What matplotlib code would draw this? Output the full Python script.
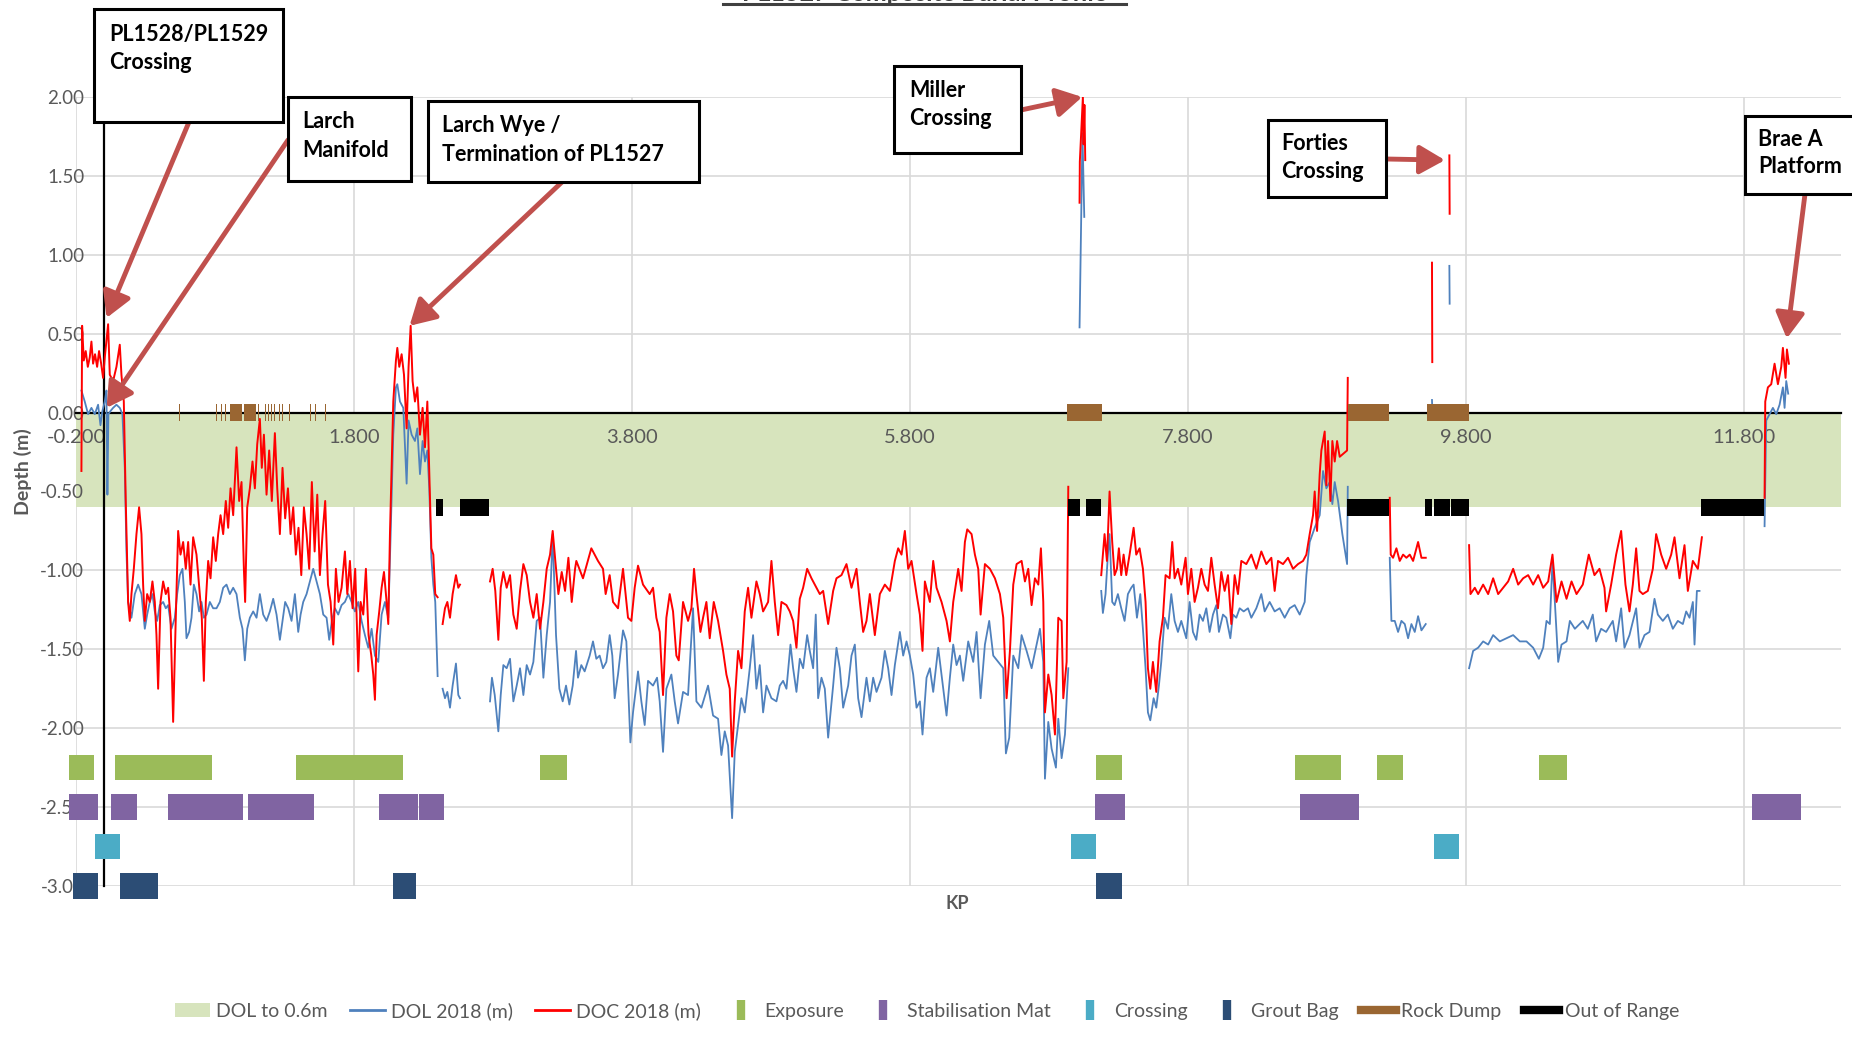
import numpy as np
import matplotlib
matplotlib.use('Agg')
import matplotlib.pyplot as plt
from matplotlib.lines import Line2D
from matplotlib.patches import Patch, Rectangle

plt.rcParams['font.family'] = ['Lato', 'DejaVu Sans']

GAP = (np.nan, np.nan)

# axis ticks
kp_ticks = [-0.2, 1.8, 3.8, 5.8, 7.8, 9.8, 11.8]
depth_ticks = [-3.0, -2.5, -2.0, -1.5, -1.0, -0.5, 0.0, 0.5, 1.0, 1.5, 2.0]

# DOL to 0.6m band (m)
band_top = 0.0
band_bottom = -0.6

# DOC 2018 (m): (KP, depth)
doc_2018 = [
    (-0.161, -0.37), (-0.156, 0.55), (-0.144, 0.33), (-0.130, 0.39), (-0.115, 0.29), (-0.101, 0.35),
    (-0.089, 0.45), (-0.077, 0.31), (-0.063, 0.37), (-0.048, 0.29), (-0.034, 0.39), (-0.019, 0.31),
    (-0.005, 0.22), (0.007, 0.35), (0.031, 0.56), (0.043, 0.24), (0.067, 0.20), (0.091, 0.29),
    (0.115, 0.43), (0.127, 0.24), (0.144, 0.07), (0.158, -0.56), (0.175, -1.20), (0.187, -1.32),
    (0.199, -1.15), (0.216, -0.99), (0.235, -0.77), (0.254, -0.60), (0.271, -0.77), (0.283, -1.09),
    (0.295, -1.32), (0.312, -1.15), (0.331, -1.20), (0.350, -1.07), (0.367, -1.20), (0.379, -1.41),
    (0.391, -1.75), (0.408, -1.20), (0.427, -1.07), (0.446, -1.15), (0.463, -1.11), (0.480, -1.30),
    (0.499, -1.96), (0.518, -1.30), (0.535, -0.75), (0.552, -0.90), (0.571, -0.82), (0.590, -0.99),
    (0.607, -0.82), (0.624, -1.09), (0.643, -0.79), (0.667, -0.90), (0.691, -1.15), (0.705, -1.30),
    (0.720, -1.70), (0.734, -1.20), (0.751, -0.94), (0.768, -1.05), (0.787, -0.79), (0.806, -0.94),
    (0.823, -0.77), (0.840, -0.65), (0.859, -0.77), (0.878, -0.56), (0.895, -0.73), (0.912, -0.48),
    (0.931, -0.65), (0.955, -0.22), (0.974, -0.56), (0.991, -0.44), (1.008, -0.99), (1.017, -1.20),
    (1.032, -0.60), (1.051, -0.48), (1.070, -0.31), (1.087, -0.48), (1.104, -0.20), (1.123, -0.04),
    (1.137, -0.35), (1.152, -0.14), (1.171, -0.52), (1.190, -0.24), (1.209, -0.56), (1.231, -0.13),
    (1.248, -0.48), (1.267, -0.77), (1.286, -0.35), (1.305, -0.67), (1.325, -0.48), (1.344, -0.77),
    (1.363, -0.60), (1.382, -0.90), (1.401, -0.73), (1.421, -1.03), (1.440, -0.60), (1.459, -0.77),
    (1.478, -0.99), (1.497, -0.44), (1.517, -0.88), (1.536, -0.52), (1.555, -1.03), (1.574, -0.77),
    (1.593, -0.56), (1.613, -1.09), (1.632, -1.20), (1.651, -1.47), (1.670, -0.99), (1.689, -1.20),
    (1.711, -1.11), (1.735, -0.88), (1.752, -1.15), (1.771, -0.94), (1.790, -1.24), (1.809, -0.99),
    (1.831, -1.64), (1.848, -1.20), (1.867, -1.28), (1.886, -0.99), (1.905, -1.41), (1.925, -1.54),
    (1.939, -1.66), (1.951, -1.82), (1.963, -1.41), (1.982, -1.26), (1.999, -1.11), (2.016, -1.01),
    (2.035, -1.20), (2.047, -1.34), (2.059, -0.77), (2.071, -0.35), (2.083, 0.07), (2.102, 0.33),
    (2.112, 0.41), (2.126, 0.29), (2.143, 0.37), (2.160, 0.24), (2.179, -0.10), (2.193, 0.29),
    (2.208, 0.55), (2.222, 0.20), (2.239, 0.07), (2.256, 0.16), (2.275, -0.14), (2.294, 0.03),
    (2.311, -0.22), (2.328, 0.07), (2.342, -0.39), (2.357, -0.86), (2.371, -0.90), (2.385, -1.15),
    (2.402, -1.17), GAP,
    (2.438, -1.34), (2.455, -1.24), (2.472, -1.20), (2.491, -1.30), (2.510, -1.15), (2.534, -1.03),
    (2.551, -1.11), (2.563, -1.09), GAP,
    (2.779, -1.07), (2.798, -0.99), (2.817, -1.13), (2.839, -1.44), (2.856, -1.11), (2.875, -1.01),
    (2.899, -1.11), (2.923, -1.03), (2.947, -1.28), (2.971, -1.37), (2.995, -1.13), (3.019, -0.96),
    (3.043, -1.03), (3.067, -1.20), (3.091, -1.30), (3.115, -1.15), (3.139, -1.37), (3.163, -1.20),
    (3.187, -0.99), (3.211, -0.90), (3.230, -0.75), (3.249, -0.94), (3.271, -1.15), (3.295, -1.01),
    (3.319, -1.13), (3.343, -0.92), (3.367, -1.20), (3.391, -0.99), (3.400, -0.94), (3.448, -1.05),
    (3.508, -0.86), (3.556, -0.94), (3.592, -0.99), (3.611, -1.15), (3.640, -1.03), (3.664, -1.20),
    (3.700, -1.24), (3.736, -0.99), (3.772, -1.30), (3.796, -1.32), (3.820, -1.11), (3.844, -0.97),
    (3.880, -1.09), (3.928, -1.15), (3.952, -1.11), (3.976, -1.30), (4.000, -1.39), (4.024, -1.79),
    (4.048, -1.30), (4.072, -1.15), (4.096, -1.26), (4.120, -1.54), (4.137, -1.57), (4.168, -1.20),
    (4.204, -1.32), (4.228, -1.24), (4.247, -0.99), (4.264, -1.15), (4.293, -1.39), (4.312, -1.30),
    (4.336, -1.20), (4.360, -1.43), (4.389, -1.20), (4.420, -1.32), (4.456, -1.51), (4.480, -1.66),
    (4.504, -1.75), (4.521, -2.18), (4.540, -1.83), (4.564, -1.51), (4.588, -1.62), (4.612, -1.26),
    (4.636, -1.11), (4.660, -1.30), (4.696, -1.07), (4.720, -1.15), (4.744, -1.26), (4.780, -1.20),
    (4.804, -0.94), (4.828, -1.20), (4.852, -1.41), (4.876, -1.20), (4.912, -1.22), (4.936, -1.26),
    (4.960, -1.32), (4.984, -1.49), (5.008, -1.18), (5.032, -1.11), (5.061, -0.99), (5.092, -1.05),
    (5.128, -1.11), (5.152, -1.15), (5.176, -1.13), (5.212, -1.34), (5.248, -1.13), (5.272, -1.05),
    (5.308, -1.03), (5.344, -0.96), (5.380, -1.11), (5.416, -0.99), (5.440, -1.20), (5.464, -1.39),
    (5.488, -1.32), (5.512, -1.15), (5.548, -1.41), (5.584, -1.15), (5.620, -1.09), (5.656, -1.13),
    (5.692, -0.94), (5.716, -0.86), (5.740, -0.90), (5.764, -0.75), (5.788, -0.99), (5.812, -0.94),
    (5.848, -1.15), (5.872, -1.28), (5.891, -1.51), (5.908, -1.07), (5.944, -1.20), (5.968, -0.94),
    (5.992, -1.11), (6.028, -1.20), (6.064, -1.32), (6.088, -1.45), (6.112, -1.20), (6.148, -0.99),
    (6.172, -1.13), (6.196, -0.82), (6.213, -0.74), (6.244, -0.77), (6.268, -0.90), (6.292, -0.99),
    (6.309, -1.28), (6.340, -0.96), (6.376, -0.99), (6.412, -1.05), (6.448, -1.15), (6.472, -1.30),
    (6.496, -1.81), (6.520, -1.51), (6.544, -1.09), (6.568, -0.96), (6.604, -0.94), (6.628, -1.07),
    (6.652, -0.99), (6.676, -1.22), (6.700, -1.05), (6.724, -1.09), (6.743, -0.86), (6.760, -1.20),
    (6.772, -1.90), (6.796, -1.66), (6.820, -1.79), (6.844, -2.04), (6.868, -1.30), (6.892, -1.32),
    (6.904, -1.81), (6.928, -1.58), (6.940, -0.47), GAP,
    (7.021, 1.33), (7.023, 1.59), (7.045, 2.00), (7.050, 1.70), (7.056, 1.95), (7.062, 1.60), GAP,
    (7.177, -1.03), (7.201, -0.77), (7.218, -0.94), (7.237, -0.50), (7.256, -0.82), (7.273, -1.03),
    (7.290, -0.99), (7.304, -0.86), (7.321, -1.03), (7.338, -0.90), (7.357, -1.03), (7.381, -0.90),
    (7.410, -0.73), (7.429, -0.90), (7.453, -0.86), (7.477, -0.99), (7.496, -1.20), (7.513, -1.62),
    (7.530, -1.75), (7.549, -1.58), (7.573, -1.77), (7.597, -1.45), (7.621, -1.30), (7.640, -1.03),
    (7.669, -1.05), (7.688, -0.82), (7.705, -1.05), (7.729, -0.99), (7.753, -1.09), (7.784, -0.92),
    (7.801, -1.15), (7.825, -0.99), (7.849, -1.20), (7.873, -1.11), (7.897, -0.99), (7.921, -1.09),
    (7.945, -1.13), (7.969, -0.92), (7.993, -1.09), (8.017, -1.24), (8.041, -1.01), (8.065, -1.13),
    (8.089, -1.03), (8.113, -1.34), (8.137, -1.03), (8.161, -1.15), (8.185, -0.94), (8.221, -0.96),
    (8.257, -0.90), (8.293, -0.99), (8.329, -0.88), (8.365, -0.96), (8.401, -0.92), (8.425, -1.13),
    (8.449, -0.94), (8.485, -0.96), (8.521, -0.92), (8.557, -0.99), (8.593, -0.96), (8.629, -0.94),
    (8.653, -0.90), (8.677, -0.77), (8.701, -0.65), (8.713, -0.50), (8.730, -0.75), (8.749, -0.39),
    (8.761, -0.24), (8.785, -0.12), (8.797, -0.46), (8.809, -0.18), (8.826, -0.56), (8.840, -0.18),
    (8.857, -0.31), (8.874, -0.18), (8.893, -0.28), (8.946, -0.24), (8.951, 0.22), GAP,
    (9.253, -0.54), (9.260, -0.90), (9.277, -0.92), (9.301, -0.86), (9.325, -0.94), (9.349, -0.90),
    (9.373, -0.92), (9.397, -0.90), (9.421, -0.94), (9.457, -0.82), (9.481, -0.92), (9.512, -0.92), GAP,
    (9.557, 0.95), (9.559, 0.32), GAP,
    (9.682, 1.63), (9.684, 1.26), GAP,
    (9.824, -0.84), (9.834, -1.15), (9.865, -1.11), (9.889, -1.15), (9.925, -1.09), (9.961, -1.15),
    (9.997, -1.05), (10.033, -1.15), (10.069, -1.11), (10.105, -1.07), (10.141, -0.99), (10.177, -1.09),
    (10.213, -1.05), (10.249, -1.03), (10.285, -1.09), (10.321, -1.03), (10.357, -1.11), (10.393, -1.07),
    (10.424, -0.90), (10.453, -1.20), (10.489, -1.07), (10.525, -1.18), (10.561, -1.07), (10.597, -1.15),
    (10.642, -1.09), (10.685, -0.90), (10.726, -1.03), (10.762, -0.99), (10.798, -1.11), (10.810, -1.26),
    (10.846, -1.09), (10.882, -0.90), (10.918, -0.75), (10.949, -1.09), (10.978, -1.26), (11.002, -1.09),
    (11.026, -0.86), (11.050, -1.13), (11.074, -1.15), (11.110, -1.13), (11.146, -0.99), (11.170, -0.77),
    (11.206, -0.90), (11.242, -0.99), (11.278, -0.90), (11.302, -0.79), (11.338, -1.05), (11.374, -0.84),
    (11.398, -1.13), (11.434, -0.94), (11.470, -0.99), (11.499, -0.79), GAP,
    (11.950, -0.54), (11.955, 0.07), (11.974, 0.16), (11.998, 0.18), (12.022, 0.31), (12.046, 0.18),
    (12.070, 0.29), (12.082, 0.41), (12.101, 0.22), (12.111, 0.40), (12.125, 0.31),
]

# DOL 2018 (m): (KP, depth)
dol_2018 = [
    (-0.161, 0.14), (-0.137, 0.07), (-0.113, -0.01), (-0.089, 0.03), (-0.065, -0.01), (-0.041, 0.05),
    (-0.024, -0.08), (-0.010, 0.01), (0.007, 0.07), (0.019, 0.14), (0.026, -0.52), (0.033, -0.01),
    (0.048, 0.01), (0.067, 0.03), (0.091, 0.05), (0.115, 0.03), (0.134, -0.01), (0.151, -0.35),
    (0.163, -0.88), (0.175, -1.20), (0.199, -1.30), (0.223, -1.15), (0.247, -1.09), (0.271, -1.15),
    (0.295, -1.37), (0.312, -1.28), (0.331, -1.20), (0.350, -1.15), (0.367, -1.26), (0.384, -1.32),
    (0.403, -1.22), (0.427, -1.20), (0.446, -1.24), (0.463, -1.22), (0.487, -1.37), (0.511, -1.30),
    (0.528, -1.15), (0.547, -1.03), (0.566, -0.99), (0.583, -1.20), (0.595, -1.43), (0.614, -1.39),
    (0.631, -1.30), (0.648, -1.09), (0.667, -1.15), (0.686, -1.26), (0.703, -1.20), (0.720, -1.30),
    (0.739, -1.28), (0.763, -1.20), (0.787, -1.24), (0.811, -1.24), (0.835, -1.20), (0.859, -1.11),
    (0.883, -1.09), (0.907, -1.15), (0.931, -1.11), (0.955, -1.15), (0.979, -1.30), (0.998, -1.37),
    (1.015, -1.57), (1.032, -1.37), (1.051, -1.30), (1.075, -1.26), (1.099, -1.30), (1.123, -1.15),
    (1.147, -1.28), (1.171, -1.32), (1.195, -1.26), (1.219, -1.18), (1.243, -1.28), (1.267, -1.44),
    (1.286, -1.32), (1.305, -1.20), (1.327, -1.24), (1.351, -1.32), (1.375, -1.15), (1.399, -1.39),
    (1.416, -1.28), (1.435, -1.20), (1.459, -1.15), (1.483, -1.07), (1.507, -0.99), (1.531, -1.07),
    (1.555, -1.15), (1.579, -1.28), (1.603, -1.30), (1.622, -1.44), (1.641, -1.32), (1.663, -1.24),
    (1.687, -1.28), (1.711, -1.22), (1.735, -1.20), (1.759, -1.15), (1.783, -1.20), (1.807, -1.26),
    (1.831, -1.20), (1.855, -1.32), (1.879, -1.41), (1.903, -1.49), (1.927, -1.37), (1.951, -1.54),
    (1.975, -1.58), (1.999, -1.28), (2.023, -1.20), (2.047, -1.30), (2.064, -0.77), (2.083, -0.14),
    (2.102, 0.16), (2.112, 0.18), (2.131, 0.07), (2.155, 0.03), (2.179, -0.45), (2.193, -0.05),
    (2.215, -0.14), (2.239, -0.18), (2.256, -0.10), (2.275, -0.39), (2.294, -0.18), (2.311, -0.31),
    (2.328, -0.24), (2.342, -0.48), (2.357, -0.92), (2.371, -1.09), (2.385, -1.20), (2.402, -1.67), GAP,
    (2.438, -1.75), (2.455, -1.81), (2.472, -1.77), (2.491, -1.87), (2.510, -1.73), (2.534, -1.59),
    (2.551, -1.79), (2.563, -1.81), GAP,
    (2.779, -1.83), (2.793, -1.68), (2.813, -1.79), (2.839, -2.02), (2.856, -1.79), (2.875, -1.60),
    (2.899, -1.62), (2.923, -1.56), (2.947, -1.83), (2.971, -1.73), (2.995, -1.62), (3.019, -1.79),
    (3.043, -1.60), (3.067, -1.66), (3.091, -1.58), (3.115, -1.32), (3.139, -1.30), (3.163, -1.68),
    (3.187, -1.41), (3.211, -1.20), (3.230, -0.77), (3.254, -1.41), (3.278, -1.75), (3.302, -1.83),
    (3.326, -1.73), (3.350, -1.85), (3.374, -1.73), (3.398, -1.51), (3.412, -1.68), (3.436, -1.60),
    (3.460, -1.64), (3.496, -1.54), (3.520, -1.45), (3.544, -1.56), (3.568, -1.54), (3.592, -1.62),
    (3.616, -1.58), (3.640, -1.41), (3.659, -1.54), (3.676, -1.81), (3.700, -1.66), (3.736, -1.38),
    (3.760, -1.45), (3.789, -2.09), (3.808, -1.90), (3.844, -1.64), (3.868, -1.83), (3.892, -1.98),
    (3.916, -1.70), (3.952, -1.73), (3.981, -1.68), (4.000, -1.83), (4.024, -2.15), (4.048, -1.75),
    (4.084, -1.66), (4.108, -1.83), (4.132, -1.97), (4.168, -1.77), (4.204, -1.79), (4.240, -1.24),
    (4.264, -1.83), (4.300, -1.87), (4.348, -1.73), (4.384, -1.92), (4.420, -1.94), (4.444, -2.17),
    (4.468, -2.02), (4.492, -2.11), (4.521, -2.57), (4.540, -2.15), (4.564, -1.98), (4.588, -1.81),
    (4.612, -1.90), (4.648, -1.62), (4.672, -1.41), (4.696, -1.75), (4.720, -1.60), (4.744, -1.90),
    (4.768, -1.73), (4.804, -1.81), (4.840, -1.83), (4.864, -1.73), (4.888, -1.70), (4.912, -1.75),
    (4.941, -1.47), (4.960, -1.62), (4.984, -1.77), (5.008, -1.56), (5.032, -1.62), (5.061, -1.41),
    (5.080, -1.51), (5.104, -1.62), (5.123, -1.28), (5.140, -1.81), (5.164, -1.68), (5.188, -1.75),
    (5.212, -2.06), (5.248, -1.73), (5.272, -1.49), (5.296, -1.62), (5.320, -1.87), (5.356, -1.73),
    (5.380, -1.54), (5.404, -1.47), (5.428, -1.81), (5.452, -1.93), (5.488, -1.68), (5.512, -1.83),
    (5.536, -1.68), (5.560, -1.77), (5.596, -1.68), (5.620, -1.51), (5.644, -1.62), (5.668, -1.79),
    (5.692, -1.60), (5.728, -1.39), (5.752, -1.54), (5.776, -1.45), (5.800, -1.54), (5.824, -1.66),
    (5.848, -1.87), (5.872, -1.83), (5.891, -2.04), (5.920, -1.68), (5.944, -1.62), (5.968, -1.77),
    (6.004, -1.49), (6.028, -1.66), (6.064, -1.92), (6.088, -1.68), (6.112, -1.47), (6.136, -1.60),
    (6.160, -1.54), (6.184, -1.70), (6.220, -1.45), (6.256, -1.58), (6.280, -1.39), (6.309, -1.81),
    (6.340, -1.47), (6.371, -1.32), (6.400, -1.54), (6.436, -1.58), (6.472, -1.62), (6.491, -2.16),
    (6.515, -2.06), (6.544, -1.54), (6.580, -1.62), (6.604, -1.41), (6.640, -1.51), (6.676, -1.62),
    (6.712, -1.47), (6.736, -1.37), (6.760, -1.58), (6.772, -2.32), (6.796, -1.96), (6.820, -2.13),
    (6.851, -2.25), (6.868, -1.94), (6.892, -2.19), (6.916, -2.04), (6.940, -1.62), GAP,
    (7.021, 0.54), (7.042, 1.77), (7.055, 1.24), GAP,
    (7.177, -1.13), (7.189, -1.27), (7.208, -1.15), (7.225, -0.90), (7.237, -0.77), (7.256, -1.20),
    (7.273, -1.22), (7.297, -1.15), (7.321, -1.24), (7.345, -1.32), (7.369, -1.15), (7.393, -1.11),
    (7.410, -1.09), (7.434, -1.30), (7.458, -1.15), (7.477, -1.37), (7.496, -1.62), (7.513, -1.90),
    (7.530, -1.95), (7.554, -1.81), (7.573, -1.87), (7.592, -1.73), (7.609, -1.58), (7.633, -1.30),
    (7.657, -1.37), (7.681, -1.15), (7.705, -1.32), (7.729, -1.39), (7.753, -1.32), (7.789, -1.43),
    (7.813, -1.20), (7.837, -1.39), (7.861, -1.44), (7.885, -1.28), (7.909, -1.32), (7.933, -1.24),
    (7.957, -1.39), (7.981, -1.28), (8.005, -1.22), (8.024, -1.39), (8.053, -1.28), (8.077, -1.30),
    (8.106, -1.43), (8.125, -1.28), (8.149, -1.30), (8.173, -1.24), (8.202, -1.26), (8.233, -1.24),
    (8.257, -1.30), (8.293, -1.24), (8.329, -1.15), (8.353, -1.26), (8.389, -1.20), (8.425, -1.26),
    (8.461, -1.24), (8.497, -1.30), (8.533, -1.24), (8.569, -1.22), (8.605, -1.28), (8.641, -1.20),
    (8.653, -1.03), (8.677, -0.82), (8.713, -0.73), (8.749, -0.65), (8.773, -0.37), (8.797, -0.48),
    (8.821, -0.44), (8.840, -0.58), (8.857, -0.44), (8.881, -0.56), (8.912, -0.77), (8.946, -0.96),
    (8.951, -0.47), GAP,
    (9.253, -0.92), (9.265, -1.32), (9.289, -1.32), (9.313, -1.39), (9.337, -1.32), (9.361, -1.34),
    (9.385, -1.43), (9.409, -1.34), (9.433, -1.39), (9.457, -1.29), (9.481, -1.38), (9.512, -1.34), GAP,
    (9.557, 0.08), (9.559, 0.03), GAP,
    (9.682, 0.93), (9.684, 0.69), GAP,
    (9.824, -1.62), (9.853, -1.51), (9.889, -1.49), (9.925, -1.45), (9.961, -1.47), (9.997, -1.41),
    (10.045, -1.45), (10.093, -1.43), (10.141, -1.41), (10.189, -1.45), (10.237, -1.45), (10.285, -1.49),
    (10.326, -1.56), (10.357, -1.49), (10.381, -1.32), (10.405, -1.34), (10.424, -0.94), (10.441, -1.20),
    (10.465, -1.58), (10.489, -1.47), (10.525, -1.45), (10.549, -1.32), (10.585, -1.37), (10.642, -1.32),
    (10.678, -1.37), (10.714, -1.28), (10.738, -1.45), (10.774, -1.37), (10.810, -1.39), (10.858, -1.32),
    (10.882, -1.45), (10.918, -1.24), (10.942, -1.49), (10.978, -1.41), (11.026, -1.24), (11.050, -1.49),
    (11.086, -1.41), (11.122, -1.39), (11.158, -1.18), (11.182, -1.28), (11.218, -1.32), (11.254, -1.28),
    (11.290, -1.37), (11.326, -1.32), (11.362, -1.34), (11.386, -1.26), (11.410, -1.30), (11.434, -1.20),
    (11.446, -1.47), (11.463, -1.13), (11.482, -1.13), GAP,
    (11.950, -0.72), (11.962, -0.05), (11.986, -0.01), (12.010, 0.03), (12.034, -0.01), (12.058, 0.05),
    (12.082, 0.16), (12.094, 0.03), (12.106, 0.20), (12.120, 0.12),
]

# events along the route: (KP start, KP end)
exposure = [(-0.25, -0.07), (0.08, 0.78), (1.38, 2.15), (3.14, 3.33),
            (7.14, 7.33), (8.57, 8.90), (9.16, 9.35), (10.33, 10.53)]
stabilisation_mat = [(-0.25, -0.04), (0.05, 0.24), (0.46, 1.00), (1.04, 1.51), (1.98, 2.26),
                     (2.27, 2.45), (7.13, 7.35), (8.61, 9.03), (11.86, 12.21)]
crossing = [(-0.065, 0.115), (6.96, 7.14), (9.57, 9.75)]
grout_bag = [(-0.22, -0.04), (0.12, 0.39), (2.08, 2.25), (7.14, 7.33)]
rock_dump = [(0.538, 0.545), (0.807, 0.813), (0.826, 0.832), (0.845, 0.851), (0.872, 0.878),
             (0.891, 0.897), (0.906, 0.997), (1.009, 1.098), (1.112, 1.118), (1.128, 1.134),
             (1.143, 1.149), (1.162, 1.168), (1.184, 1.190), (1.205, 1.211), (1.227, 1.233),
             (1.243, 1.249), (1.263, 1.269), (1.282, 1.288), (1.335, 1.341), (1.483, 1.489),
             (1.502, 1.508), (1.522, 1.528), (1.546, 1.552), (1.567, 1.573), (1.591, 1.597),
             (6.93, 7.18), (8.95, 9.25), (9.52, 9.82)]
out_of_range = [(2.39, 2.44), (2.56, 2.77), (6.937, 7.021), (7.064, 7.174), (8.946, 9.251),
                (9.51, 9.558), (9.568, 9.683), (9.692, 9.82), (11.493, 11.948)]

# depth at which each event row is drawn
exposure_level = -2.25
mat_level = -2.5
crossing_level = -2.75
grout_level = -3.0
rock_level = 0.0
oor_level = -0.6

# callouts: (text lines, point on the profile (KP, depth))
callouts = [
    (['PL1528/PL1529', 'Crossing'], (0.02, 0.60)),
    (['Larch', 'Manifold'], (0.02, 0.03)),
    (['Larch Wye /', 'Termination of PL1527'], (2.20, 0.55)),
    (['Miller', 'Crossing'], (7.04, 2.00)),
    (['Forties', 'Crossing'], (9.65, 1.60)),
    (['Brae A', 'Platform'], (12.11, 0.47)),
]
# box layout in pixels: (x0, y0, x1, y1, text x, baseline 1, baseline 2, arrow tail x, arrow tail y)
callout_boxes = [
    (94, 9, 283, 122, 109, 41, 69, 189, 122),
    (288, 97, 411, 181, 302, 128, 157, 288, 140),
    (428, 101, 699, 182, 442, 132, 161, 562, 182),
    (894, 66, 1021, 153, 909, 97, 125, 1021, 110),
    (1268, 120, 1386, 197, 1281, 150, 178, 1386, 159),
    (1745, 116, 1890, 194, 1758, 146, 173, 1805, 194),
]

W, H = 1852, 1037
GREY = '#595959'
GRID = '#D9D9D9'
ARROW = '#C0504D'
colors = {
    'band': '#D7E4BD', 'dol': '#4F81BD', 'doc': '#FF0000', 'exposure': '#9BBB59',
    'mat': '#8064A2', 'crossing': '#4BACC6', 'grout': '#2C4D75', 'rock': '#9A6632', 'oor': '#000000',
}


def fx(x):
    return x / W


def fy(y):
    return 1 - y / H


fig = plt.figure(figsize=(W / 100, H / 100), dpi=100)
ax = fig.add_axes([fx(76), fy(886), fx(1841) - fx(76), fy(97) - fy(886)])
ax.set_xlim(-0.2, 12.5)
ax.set_ylim(-3.0, 2.0)

# gridlines sit under the band, tick labels above it
for v in kp_ticks:
    ax.axvline(v, color=GRID, lw=1.2, zorder=0.5)
for v in depth_ticks:
    ax.axhline(v, color=GRID, lw=1.2, zorder=0.5)
ax.axhspan(band_bottom, band_top, color=colors['band'], lw=0, zorder=1)

dol_kp, dol_depth = zip(*dol_2018)
doc_kp, doc_depth = zip(*doc_2018)
ax.plot(dol_kp, dol_depth, color=colors['dol'], lw=1.3, zorder=2.6)
ax.plot(doc_kp, doc_depth, color=colors['doc'], lw=1.4, zorder=2.7)


def draw_events(spans, level, height, color):
    ax.broken_barh([(s, e - s) for s, e in spans], (level - height / 2, height),
                   facecolors=color, edgecolor='none', clip_on=False, zorder=4)


draw_events(exposure, exposure_level, 0.16, colors['exposure'])
draw_events(stabilisation_mat, mat_level, 0.16, colors['mat'])
draw_events(crossing, crossing_level, 0.16, colors['crossing'])
draw_events(grout_bag, grout_level, 0.16, colors['grout'])
draw_events(rock_dump, rock_level, 0.105, colors['rock'])
draw_events(out_of_range, oor_level, 0.105, colors['oor'])

# axes cross at KP 0 / depth 0 like the Excel original
for side in ['top', 'right']:
    ax.spines[side].set_visible(False)
ax.spines['left'].set_position(('data', 0))
ax.spines['bottom'].set_position(('data', 0))
for side in ['left', 'bottom']:
    ax.spines[side].set_color('black')
    ax.spines[side].set_linewidth(1.6)
    ax.spines[side].set_zorder(2.5)

ax.set_xticks(kp_ticks)
ax.set_xticklabels([f'{v:.3f}' for v in kp_ticks])
ax.set_yticks(depth_ticks)
ax.set_yticklabels([f'{v:.2f}' for v in depth_ticks])
ax.tick_params(axis='x', length=0, pad=12, labelsize=14.5, labelcolor=GREY)
ax.tick_params(axis='y', length=0, pad=14, labelsize=13.5, labelcolor=GREY)

ax.set_xlabel('KP', fontsize=13, fontweight='bold', color=GREY)
ax.xaxis.set_label_coords(0.4995, -0.012)
ax.set_ylabel('Depth (m)', fontsize=14, fontweight='bold', color=GREY)
ax.yaxis.set_label_coords(-0.025, 0.525)

# callout boxes and arrows
for (lines, point), box in zip(callouts, callout_boxes):
    x0, y0, x1, y1, tx, b1, b2, ax_px, ay_px = box
    fig.add_artist(Rectangle((fx(x0), fy(y1)), fx(x1) - fx(x0), fy(y0) - fy(y1),
                             transform=fig.transFigure, facecolor='white',
                             edgecolor='black', lw=2.2, zorder=10))
    for text, base in zip(lines, [b1, b2]):
        fig.text(fx(tx), fy(base), text, fontsize=15.5, fontweight='bold', color='black',
                 ha='left', va='baseline', zorder=11)
    ax.annotate('', xy=point, xycoords='data', xytext=(fx(ax_px), fy(ay_px)),
                textcoords='figure fraction', annotation_clip=False, zorder=12,
                arrowprops=dict(arrowstyle='-|>,head_length=0.7,head_width=0.4', color=ARROW,
                                lw=3.5, shrinkA=0, shrinkB=0, mutation_scale=22))

# title is cut off at the top of the image
fig.text(0.499, fy(1), 'PL1527 Composite Burial Profile', fontsize=18, fontweight='bold',
         color='#404040', ha='center', va='baseline')
fig.add_artist(Line2D([fx(723), fx(1126)], [fy(4), fy(4)], color='#404040', lw=2.2))

handles = [
    Patch(facecolor=colors['band'], edgecolor='none', label='DOL to 0.6m'),
    Line2D([], [], color=colors['dol'], lw=2, label='DOL 2018 (m)'),
    Line2D([], [], color=colors['doc'], lw=2, label='DOC 2018 (m)'),
    Line2D([], [], color=colors['exposure'], marker='|', ms=14, mew=6, ls='none', label='Exposure'),
    Line2D([], [], color=colors['mat'], marker='|', ms=14, mew=6, ls='none', label='Stabilisation Mat'),
    Line2D([], [], color=colors['crossing'], marker='|', ms=14, mew=6, ls='none', label='Crossing'),
    Line2D([], [], color=colors['grout'], marker='|', ms=14, mew=6, ls='none', label='Grout Bag'),
    Line2D([], [], color=colors['rock'], lw=6, label='Rock Dump'),
    Line2D([], [], color=colors['oor'], lw=6, label='Out of Range'),
]
fig.legend(handles=handles, loc='center', bbox_to_anchor=(0.5006, fy(1011)), ncol=9,
           frameon=False, fontsize=14, labelcolor=GREY, handlelength=1.8,
           handletextpad=0.3, columnspacing=1.15)

fig.savefig('out.png', dpi=100)
